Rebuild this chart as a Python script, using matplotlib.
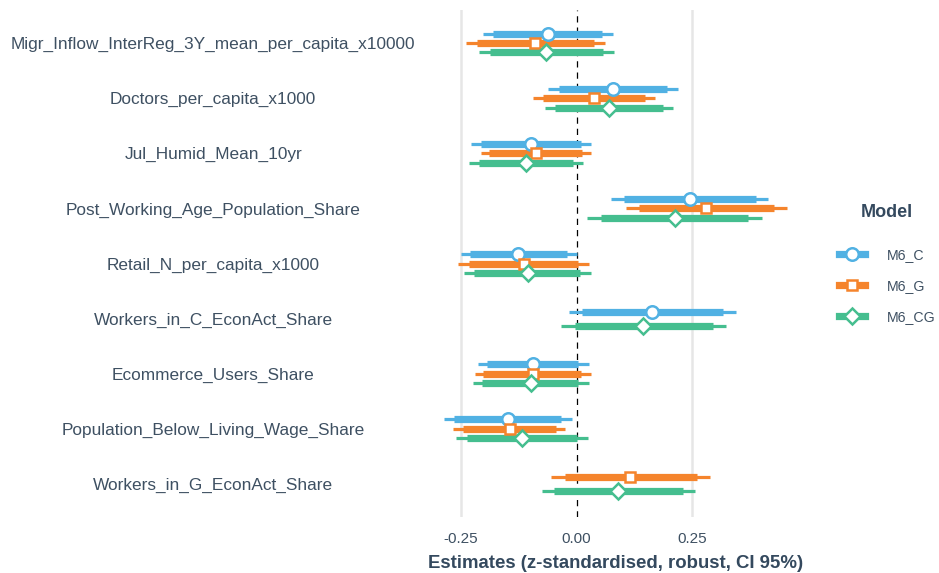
import matplotlib
matplotlib.use("Agg")
import matplotlib.pyplot as plt
from matplotlib.lines import Line2D
import numpy as np

plt.rcParams['font.family'] = ['Liberation Sans', 'DejaVu Sans']

terms = [
    "Migr_Inflow_InterReg_3Y_mean_per_capita_x10000",
    "Doctors_per_capita_x1000",
    "Jul_Humid_Mean_10yr",
    "Post_Working_Age_Population_Share",
    "Retail_N_per_capita_x1000",
    "Workers_in_C_EconAct_Share",
    "Ecommerce_Users_Share",
    "Population_Below_Living_Wage_Share",
    "Workers_in_G_EconAct_Share",
]
models = ["M6_C", "M6_G", "M6_CG"]

# estimate, inner interval (lo, hi), outer 95% CI (lo, hi); None where a term is not in the model
m6_c_est = [-0.062, 0.079, -0.099, 0.246, -0.126, 0.163, -0.095, -0.149, None]
m6_c_in_lo = [-0.180, -0.038, -0.207, 0.103, -0.231, 0.012, -0.194, -0.265, None]
m6_c_in_hi = [0.056, 0.196, 0.010, 0.388, -0.021, 0.317, 0.004, -0.033, None]
m6_c_ci_lo = [-0.202, -0.061, -0.228, 0.075, -0.250, -0.017, -0.214, -0.287, None]
m6_c_ci_hi = [0.079, 0.219, 0.031, 0.416, 0.001, 0.346, 0.026, -0.010, None]

m6_g_est = [-0.090, 0.037, -0.088, 0.281, -0.113, None, -0.095, -0.145, 0.116]
m6_g_in_lo = [-0.216, -0.073, -0.189, 0.136, -0.232, None, -0.202, -0.246, -0.026]
m6_g_in_hi = [0.038, 0.149, 0.012, 0.427, 0.003, None, 0.010, -0.044, 0.262]
m6_g_ci_lo = [-0.240, -0.095, -0.207, 0.108, -0.256, None, -0.221, -0.267, -0.056]
m6_g_ci_hi = [0.062, 0.171, 0.031, 0.456, 0.028, None, 0.031, -0.025, 0.290]

m6_cg_est = [-0.066, 0.071, -0.109, 0.213, -0.106, 0.145, -0.099, -0.119, 0.091]
m6_cg_in_lo = [-0.187, -0.046, -0.211, 0.054, -0.222, -0.004, -0.204, -0.238, -0.048]
m6_cg_in_hi = [0.057, 0.187, -0.007, 0.372, 0.008, 0.296, 0.004, 0.001, 0.230]
m6_cg_ci_lo = [-0.211, -0.069, -0.232, 0.023, -0.243, -0.033, -0.225, -0.261, -0.074]
m6_cg_ci_hi = [0.081, 0.210, 0.013, 0.403, 0.031, 0.324, 0.026, 0.024, 0.256]

x_ticks = [-0.25, 0.0, 0.25]
x_tick_labels = ["-0.25", "0.00", "0.25"]

series = {
    "M6_C": (m6_c_est, m6_c_in_lo, m6_c_in_hi, m6_c_ci_lo, m6_c_ci_hi),
    "M6_G": (m6_g_est, m6_g_in_lo, m6_g_in_hi, m6_g_ci_lo, m6_g_ci_hi),
    "M6_CG": (m6_cg_est, m6_cg_in_lo, m6_cg_in_hi, m6_cg_ci_lo, m6_cg_ci_hi),
}
colors = {"M6_C": "#51b1e3", "M6_G": "#f5842c", "M6_CG": "#45be8f"}
markers = {"M6_C": "o", "M6_G": "s", "M6_CG": "D"}
msizes = {"M6_C": 9.0, "M6_G": 7.6, "M6_CG": 8.0}

text_col = "#3e5062"
title_col = "#34495e"

W, H = 939, 573
fig = plt.figure(figsize=(W / 100, H / 100), dpi=100)
ax = fig.add_axes([427 / W, 1 - 517 / H, (804 - 427) / W, (517 - 10) / H])

ax.set_xlim(-0.324, 0.493)
ax.set_ylim(len(terms) + 0.6, 0.4)

for xv in x_ticks:
    if xv != 0:
        ax.axvline(xv, color="#e6e6e6", lw=1.8, zorder=0)
ax.axvline(0, color="black", lw=0.9, ls=(0, (5, 4)), zorder=1)

for i, term in enumerate(terms):
    present = [m for m in models if series[m][0][i] is not None]
    n = len(present)
    step = 0.17 if n == 3 else 0.254
    offs = (np.arange(n) - (n - 1) / 2) * step
    for m, off in zip(present, offs):
        est, ilo, ihi, clo, chi = (s[i] for s in series[m])
        y = i + 1 + off
        c = colors[m]
        ax.plot([clo, chi], [y, y], color=c, lw=2.3, solid_capstyle="butt", zorder=2)
        ax.plot([ilo, ihi], [y, y], color=c, lw=5.2, solid_capstyle="butt", zorder=3)
        ax.plot([est], [y], marker=markers[m], ms=msizes[m], mfc="white",
                mec=c, mew=1.8, zorder=4, ls="none")

ax.set_xticks(x_ticks)
ax.set_xticklabels(x_tick_labels)
ax.set_yticks(np.arange(1, len(terms) + 1))
ax.set_yticklabels(terms)
ax.tick_params(axis="both", length=0)
ax.tick_params(axis="x", labelsize=11, labelcolor=text_col, pad=10.5)
ax.tick_params(axis="y", labelsize=12.4, labelcolor=text_col, pad=154)
for lab in ax.get_yticklabels():
    lab.set_horizontalalignment("center")
for s in ax.spines.values():
    s.set_visible(False)

ax.set_xlabel("Estimates (z-standardised, robust, CI 95%)", fontsize=13.4,
              fontweight="bold", color=title_col, labelpad=7)

handles = [Line2D([0], [0], color=colors[m], lw=5.2, marker=markers[m],
                  ms=msizes[m], mfc="white", mec=colors[m], mew=1.8)
           for m in models]
leg = fig.legend(handles, models, loc="center left",
                 bbox_to_anchor=(826 / W, 1 - 264 / H), frameon=False,
                 title="Model", fontsize=10.2, handlelength=1.88,
                 labelspacing=1.2, handletextpad=1.5)
leg.get_title().set_fontweight("bold")
leg.get_title().set_fontsize(13)
leg.get_title().set_color(title_col)
for t in leg.get_texts():
    t.set_color(text_col)
leg._legend_box.sep = 19

fig.savefig("out.png", dpi=100)
